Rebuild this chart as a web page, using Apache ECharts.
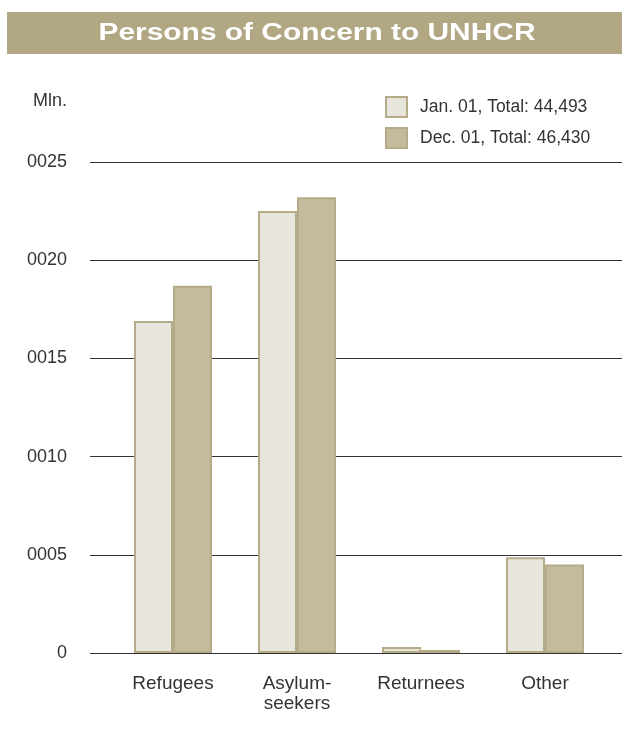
<!DOCTYPE html>
<html>
<head>
<meta charset="utf-8">
<script src="https://cdn.jsdelivr.net/npm/echarts@6/dist/echarts.min.js"></script>
<style>
  html, body { margin: 0; padding: 0; background: #fff; }
  #chart { width: 622px; height: 751px; }
</style>
</head>
<body>
<div id="chart"></div>
<script>
// data (Mln.)
var categories = ['Refugees', 'Asylum-\nseekers', 'Returnees', 'Other'];
var seriesNames = ['Jan. 01, Total: 44,493', 'Dec. 01, Total: 46,430'];
var jan01 = [16.9, 22.5, 0.3, 4.88];
var dec01 = [18.7, 23.2, 0.15, 4.5];
var yTicks = [0, 5, 10, 15, 20, 25];
var titleText = 'Persons of Concern to UNHCR';

var font = 'Liberation Sans, Arial, Helvetica, sans-serif';
var titleFont = 'bold 23px ' + font;

// the title in the picture is set wide, stretch it to ~437px
var ctx = document.createElement('canvas').getContext('2d');
ctx.font = titleFont;
var titleScale = 437 / ctx.measureText(titleText).width;

var chart = echarts.init(document.getElementById('chart'));

var option = {
    animation: false,
    textStyle: { fontFamily: font },
    graphic: [
        {
            type: 'rect',
            shape: { x: 7, y: 12, width: 615, height: 42 },
            style: { fill: '#b1a783' },
            z: 0
        },
        {
            type: 'text',
            x: 317, y: 34,
            scaleX: titleScale,
            style: {
                text: titleText,
                fill: '#ffffff',
                font: titleFont,
                align: 'center',
                verticalAlign: 'middle'
            },
            z: 1
        },
        {
            type: 'text',
            x: 67, y: 101,
            style: {
                text: 'Mln.',
                fill: '#333333',
                font: '18px ' + font,
                align: 'right',
                verticalAlign: 'middle'
            }
        }
    ],
    legend: {
        orient: 'vertical',
        left: 385,
        top: 96,
        padding: 0,
        itemWidth: 21,
        itemHeight: 20,
        itemGap: 9,
        icon: 'rect',
        data: seriesNames,
        textStyle: { fontSize: 17.5, color: '#333333', fontFamily: font, padding: [0, 0, 0, 8] }
    },
    grid: [
        { left: 90, right: 0, top: 162, bottom: 98 },
        { left: 111, right: 15, top: 162, bottom: 98 }
    ],
    xAxis: [
        { gridIndex: 0, type: 'value', show: false },
        {
            gridIndex: 1,
            type: 'category',
            data: categories,
            axisLine: { show: false },
            axisTick: { show: false },
            axisLabel: {
                margin: 21,
                fontSize: 19,
                lineHeight: 20,
                color: '#333333',
                fontFamily: font
            }
        }
    ],
    yAxis: [
        {
            gridIndex: 0,
            type: 'value',
            min: 0,
            max: 25,
            interval: 5,
            axisLine: { show: false },
            axisTick: { show: false },
            axisLabel: {
                margin: 23,
                fontSize: 18,
                color: '#333333',
                fontFamily: font,
                formatter: function (v) {
                    if (yTicks.indexOf(v) < 0) return '';
                    return v === 0 ? '0' : String(v).padStart(4, '0');
                }
            },
            splitLine: { lineStyle: { color: '#333333', width: 1 } }
        },
        { gridIndex: 1, type: 'value', min: 0, max: 25, show: false }
    ],
    series: [
        {
            name: seriesNames[0],
            type: 'bar',
            xAxisIndex: 1,
            yAxisIndex: 1,
            barWidth: 39,
            barGap: '0%',
            data: jan01,
            itemStyle: { color: '#e8e6dc', borderColor: '#b6ab88', borderWidth: 2 },
            z: 3
        },
        {
            name: seriesNames[1],
            type: 'bar',
            xAxisIndex: 1,
            yAxisIndex: 1,
            barWidth: 39,
            barGap: '0%',
            data: dec01,
            itemStyle: { color: '#c4bb9c', borderColor: '#b6ab88', borderWidth: 2 },
            z: 3
        }
    ]
};

chart.setOption(option);
</script>
</body>
</html>
